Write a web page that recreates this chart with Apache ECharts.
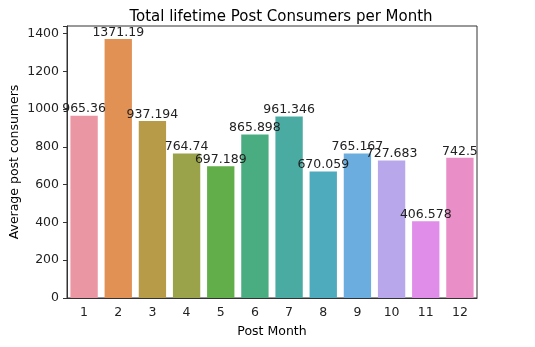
<!DOCTYPE html>
<html><head><meta charset="utf-8">
<script src="https://cdn.jsdelivr.net/npm/echarts@6/dist/echarts.min.js"></script>
<style>html,body{margin:0;padding:0;background:#fff}#c{width:535px;height:347px}</style>
</head><body><div id="c"></div>
<script>
const months = ['1','2','3','4','5','6','7','8','9','10','11','12'];
const values = [965.36, 1371.19, 937.194, 764.74, 697.189, 865.898, 961.346, 670.059, 765.167, 727.683, 406.578, 742.5];
const labels = ['965.36','1371.19','937.194','764.74','697.189','865.898','961.346','670.059','765.167','727.683','406.578','742.5'];
const colors = ['#ea96a3','#e19153','#b89b49','#9aa24a','#62ae4a','#4aad82','#4aaba3','#4eaabd','#6badde','#b8a7ea','#df8de8','#e98ec6'];
const yTicks = [0,200,400,600,800,1000,1200,1400];
const chart = echarts.init(document.getElementById('c'));
const font = 'DejaVu Sans';
chart.setOption({
  animation:false,
  title:{text:'Total lifetime Post Consumers per Month',left:276,top:5,textAlign:'center',
    textStyle:{fontFamily:font,fontSize:15,fontWeight:'normal',color:'#000'}},
  grid:{left:67,right:58,top:26,bottom:49,show:true,borderColor:'#333',borderWidth:1,
    containLabel:false,outerBoundsMode:'none'},
  xAxis:{type:'category',data:months,
    name:'Post Month',nameLocation:'middle',nameGap:27,nameMoveOverlap:false,
    nameTextStyle:{fontFamily:font,fontSize:12.5,color:'#000'},
    axisLine:{lineStyle:{color:'#333'}},
    axisTick:{alignWithLabel:true,length:4,lineStyle:{color:'#333'}},
    axisLabel:{fontFamily:font,fontSize:12.5,color:'#222',margin:8}},
  yAxis:{type:'value',min:0,max:1440,interval:200,
    name:'Average post consumers',nameLocation:'middle',nameGap:52,nameMoveOverlap:false,
    nameTextStyle:{fontFamily:font,fontSize:12.5,color:'#000',verticalAlign:'middle'},
    splitLine:{show:false},
    axisLine:{show:true,lineStyle:{color:'#333'}},
    axisTick:{show:true,length:4,lineStyle:{color:'#333'}},
    axisLabel:{fontFamily:font,fontSize:12.5,color:'#222',margin:8,
      formatter:v=>yTicks.includes(v)?String(v):''}},
  series:[{type:'bar',barCategoryGap:'20%',
    data:values.map((v,i)=>({value:v,itemStyle:{color:colors[i]}})),
    label:{show:true,position:'top',distance:0,fontFamily:font,fontSize:12.5,color:'#222',
      formatter:p=>labels[p.dataIndex]}}]
});
</script></body></html>
